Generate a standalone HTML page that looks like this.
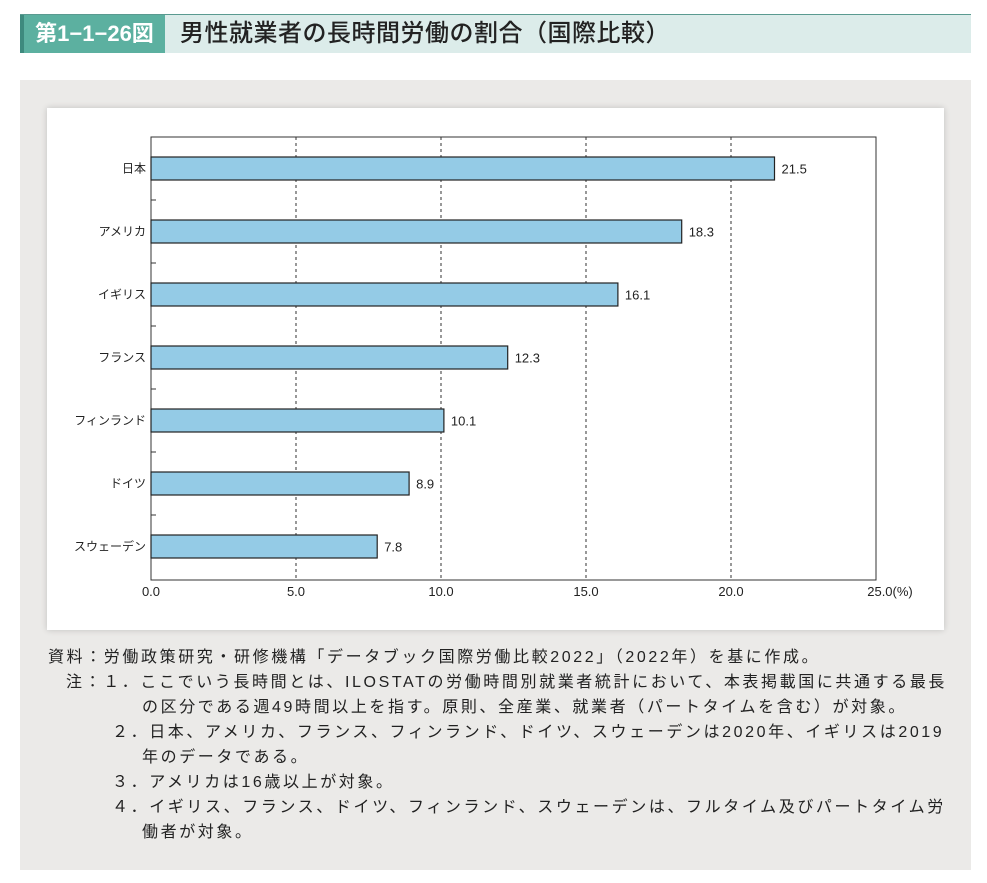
<!DOCTYPE html>
<html><head><meta charset="utf-8"><style>
body{margin:0;width:987px;height:883px;background:#fff;font-family:"Liberation Sans","Noto Sans CJK JP",sans-serif;position:relative;overflow:hidden}
.hdr{position:absolute;left:20px;top:14px;width:951px;height:38px;background:#dcecea;border-top:1px solid #5a9a90}
.lbl{position:absolute;left:0;top:0;width:145px;height:38px;background:#5cb0a0;color:#fff;font-weight:bold;font-size:22px;line-height:38px;text-align:center;border-left:4px solid #3e8a7e;box-sizing:border-box}
.ttl{position:absolute;left:160px;top:0;line-height:38px;font-size:24px;color:#222;font-weight:500;letter-spacing:0.5px}
.panel{position:absolute;left:20px;top:80px;width:951px;height:790px;background:#ebeae8}
.box{position:absolute;left:27px;top:28px;width:897px;height:522px;background:#fff;box-shadow:0 0 6px rgba(0,0,0,.18)}
.notes{position:absolute;left:0;top:565px;font-size:16px;color:#222;line-height:25px;letter-spacing:2.6px}
.notes div{position:absolute;white-space:nowrap}
</style></head><body>
<div class="hdr">
<div class="lbl">第1−1−26図</div>
<div class="ttl">男性就業者の長時間労働の割合（国際比較）</div>
</div>
<div class="panel">
<div class="box"></div>
<div class="notes">
<div style="left:28px;top:0">資料：労働政策研究・研修機構「データブック国際労働比較2022」（2022年）を基に作成。</div>
<div style="left:46px;top:25px">注：１．ここでいう長時間とは、ILOSTATの労働時間別就業者統計において、本表掲載国に共通する最長</div>
<div style="left:122px;top:50px">の区分である週49時間以上を指す。原則、全産業、就業者（パートタイムを含む）が対象。</div>
<div style="left:92px;top:75px">２．日本、アメリカ、フランス、フィンランド、ドイツ、スウェーデンは2020年、イギリスは2019</div>
<div style="left:122px;top:100px">年のデータである。</div>
<div style="left:92px;top:125px">３．アメリカは16歳以上が対象。</div>
<div style="left:92px;top:150px">４．イギリス、フランス、ドイツ、フィンランド、スウェーデンは、フルタイム及びパートタイム労</div>
<div style="left:122px;top:175px">働者が対象。</div>
</div>
</div>
<svg id="chart" width="987" height="883" style="position:absolute;left:0;top:0"></svg>
<script>
const categories=["日本","アメリカ","イギリス","フランス","フィンランド","ドイツ","スウェーデン"];
const values=[21.5,18.3,16.1,12.3,10.1,8.9,7.8];
const ticks=[0,5,10,15,20,25];
const tickLabels=["0.0","5.0","10.0","15.0","20.0","25.0(%)"];
const svg=document.getElementById('chart');
const NS='http://www.w3.org/2000/svg';
const x0=151,x1=876,y0=137,y1=580,xmax=25;
const X=v=>x0+(x1-x0)*v/xmax;
const step=63,first=168.5;
const Y=i=>first+i*step;
function mk(t,a){const e=document.createElementNS(NS,t);for(const k in a)e.setAttribute(k,a[k]);svg.appendChild(e);return e;}
ticks.forEach((t,i)=>{
 if(t>0&&t<xmax){const l=mk('line',{x1:X(t),x2:X(t),y1:y0,y2:y1,stroke:'#555','stroke-dasharray':'3,3','stroke-width':1.2});
 
 }
 const tx=mk('text',{x:X(t)+(i==ticks.length-1?14:0),y:y1+16,'text-anchor':'middle','font-size':13,fill:'#222','font-family':'Liberation Sans, sans-serif'});
 tx.textContent=tickLabels[i];
 
 
});
const fr=mk('rect',{x:x0,y:y0,width:x1-x0,height:y1-y0,fill:'none',stroke:'#333','stroke-width':1});


for(let i=0;i<categories.length-1;i++){const t=mk('line',{x1:x0,x2:x0+5,y1:Y(i)+step/2,y2:Y(i)+step/2,stroke:'#333'});
 
 }
categories.forEach((c,i)=>{
 const r=mk('rect',{x:x0,y:Y(i)-11.5,width:X(values[i])-x0,height:23,fill:'#94cbe6',stroke:'#222','stroke-width':1.2});
 
 
 const v=mk('text',{x:X(values[i])+7,y:Y(i)+5,'font-size':13,fill:'#222'});
 v.textContent=values[i].toFixed(1);
 
 
 const l=mk('text',{x:x0-5,y:Y(i)+4,'text-anchor':'end','font-size':12,fill:'#222','font-family':'Liberation Sans, Noto Sans CJK JP, sans-serif'});
 l.textContent=c;
 
 
});
</script>
</body></html>
